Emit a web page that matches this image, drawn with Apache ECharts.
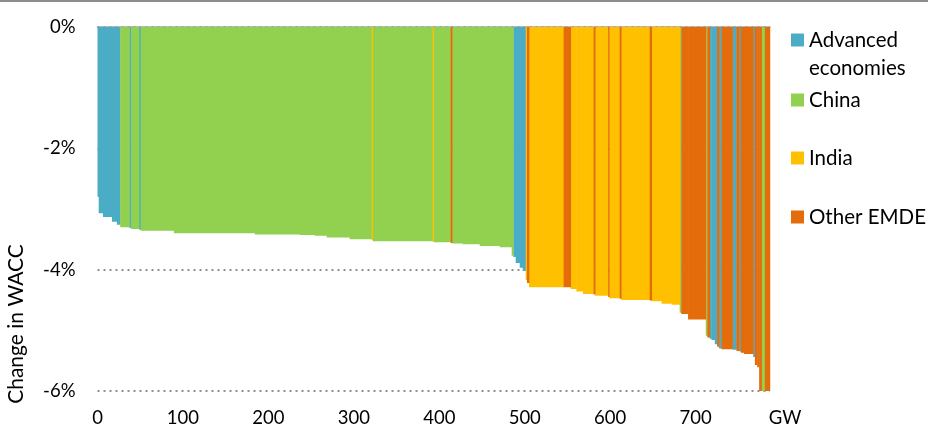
<!DOCTYPE html>
<html><head><meta charset="utf-8">
<script src="https://cdn.jsdelivr.net/npm/echarts@6/dist/echarts.min.js"></script>
<style>html,body{margin:0;padding:0;background:#fff}#c{width:928px;height:433px}</style>
</head><body><div id="c"></div>
<script>
// Regions (legend categories)
const regions = ['Advanced economies', 'China', 'India', 'Other EMDE'];
const regionColors = ['#4BACC6', '#92D050', '#FFC000', '#E46C0A'];

// Each bar: capacity (GW, bar width), change in WACC (%), region index
const capacityGW = [1.4,5.0,10.5,5.8,3.9, 10.5,2.0,9.4,2.0,38.9, 94.7,52.6,17.5,14.0,26.9,
  25.7,1.2,70.2,1.2,19.9, 1.8,12.3,19.9,23.4,14.0, 1.8,2.9,4.7,3.5,3.5,
  1.5,2.3,40.6,8.2,6.7, 7.7,12.5,1.8,15.2,1.2, 12.3,1.8,33.3,2.3,11.7,
  11.7,9.4,1.8,8.0,20.7, 1.8,2.9,2.0,3.9,2.7, 2.3,2.8,12.9,4.7,3.3,
  1.8,3.5,10.9,2.0,2.7, 2.3,2.8,3.9,5.8];
const waccChangePct = [-2.80,-3.07,-3.13,-3.21,-3.26, -3.30,-3.31,-3.33,-3.34,-3.36,
  -3.40,-3.42,-3.43,-3.44,-3.47, -3.50,-3.51,-3.53,-3.54,-3.55,
  -3.56,-3.57,-3.58,-3.61,-3.63, -3.77,-3.79,-3.89,-3.97,-4.02,
  -4.17,-4.22,-4.29,-4.29,-4.32, -4.36,-4.40,-4.41,-4.43,-4.45,
  -4.47,-4.48,-4.50,-4.51,-4.52, -4.56,-4.58,-4.71,-4.73,-4.82,
  -5.09,-5.12,-5.14,-5.16,-5.23, -5.27,-5.30,-5.31,-5.32,-5.34,
  -5.35,-5.37,-5.39,-5.44,-5.57, -5.61,-6.00,-6.00,-6.00];
const regionOfBar = [0,0,0,0,0, 1,0,1,0,1, 1,1,1,1,1, 1,2,1,2,1, 3,1,1,1,1, 1,0,0,0,0,
  2,3,2,3,2, 2,2,3,2,3, 2,3,2,3,2, 2,2,1,3,3, 1,3,0,0,0, 3,0,3,0,3,
  0,3,3,0,3, 3,3,1,3];

// Axis settings
const xMax = 787, xInterval = 100, xUnit = 'GW';
const yMin = -6, yMax = 0, yInterval = 2;

// Build per-region data: [xStart, xEnd, value]
const perRegion = regions.map(() => []);
let cum = 0;
capacityGW.forEach((w, i) => {
  perRegion[regionOfBar[i]].push([cum, cum + w, waccChangePct[i]]);
  cum += w;
});

function renderItem(params, api) {
  const x0 = api.value(0), x1 = api.value(1), v = api.value(2);
  const p0 = api.coord([x0, 0]);
  const p1 = api.coord([x1, v]);
  return {
    type: 'rect',
    shape: { x: p0[0], y: p0[1], width: p1[0] - p0[0] + 0.4, height: p1[1] - p0[1] },
    style: { fill: regionColors[params.seriesIndex] }
  };
}

const font = 'Lato, "Open Sans", sans-serif';
const chart = echarts.init(document.getElementById('c'), null, { renderer: 'canvas' });

const legendTops = [-2, 88, 146, 205];
const legends = regions.map((r, i) => ({
  data: [r], left: 791, top: legendTops[i], orient: 'vertical', padding: 0,
  icon: 'rect', itemWidth: 13, itemHeight: 13, selectedMode: false,
  formatter: i === 0 ? ' \nAdvanced\neconomies' : '{name}',
  textStyle: { fontSize: 20.5, color: '#000', fontFamily: font, lineHeight: i === 0 ? 28 : 24 }
}));

chart.setOption({
  animation: false,
  backgroundColor: '#fff',
  grid: { left: 97.5, right: 158, top: 27, bottom: 42, outerBoundsMode: 'none' },
  legend: legends,
  xAxis: [{
    type: 'value', min: 0, max: xMax, interval: xInterval, position: 'bottom',
    axisLine: { show: false }, axisTick: { show: false }, splitLine: { show: false },
    axisLabel: {
      margin: 18, fontSize: 18.5, color: '#000', fontFamily: font, showMaxLabel: true,
      formatter: v => (v === xMax ? '{u|' + xUnit + '}' : String(v)),
      rich: { u: { fontSize: 18.5, color: '#000', fontFamily: font, padding: [0, 0, 0, 30] } }
    }
  }, {
    type: 'value', min: 0, max: xMax, position: 'top',
    axisLine: { show: true, onZero: false, lineStyle: { color: '#a6a6a6', width: 1.5 } },
    axisTick: { show: false }, axisLabel: { show: false }, splitLine: { show: false }
  }],
  yAxis: {
    type: 'value', min: yMin, max: yMax, interval: yInterval,
    axisLine: { show: false }, axisTick: { show: false },
    axisLabel: { margin: 22, fontSize: 18.5, color: '#000', fontFamily: font, formatter: v => v + '%' },
    splitLine: { show: true, lineStyle: { color: '#8f8f8f', width: 2, type: [2, 4] } }
  },
  graphic: [
    { type: 'rect', left: 0, top: 0, shape: { width: 928, height: 2 }, style: { fill: '#8c8c8c' }, silent: true },
    { type: 'text', x: 16, y: 324, rotation: Math.PI / 2,
      style: { text: 'Change in WACC', fontSize: 21, fill: '#000', fontFamily: font, align: 'center', verticalAlign: 'middle' } }
  ],
  series: regions.map((r, i) => ({
    name: r, type: 'custom', renderItem: renderItem,
    itemStyle: { color: regionColors[i] },
    encode: { x: [0, 1], y: 2 },
    data: perRegion[i], clip: true
  }))
});
</script></body></html>
